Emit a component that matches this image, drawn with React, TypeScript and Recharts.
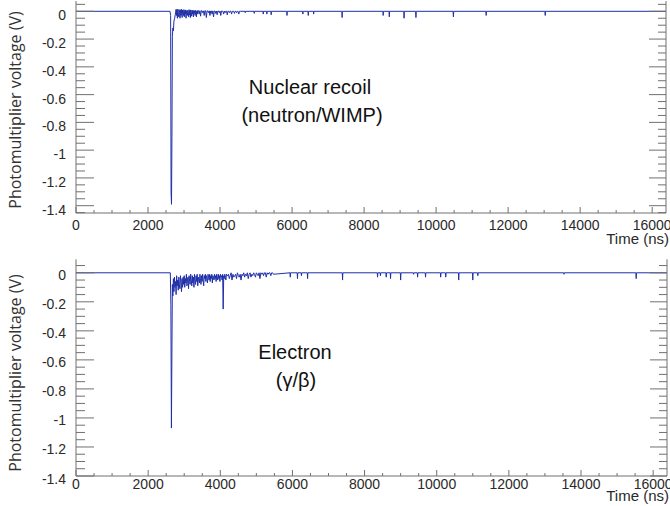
import { LineChart, Line, XAxis, YAxis } from "recharts";

// time axis (ns) and voltage axis (V)
const tEnd = 16384;
const xMajor = [0, 2000, 4000, 6000, 8000, 10000, 12000, 14000, 16000];
const xMajorLabels = ["0", "2000", "4000", "6000", "8000", "10000", "12000", "14000", "16000"];
const yMajor = [0, -0.2, -0.4, -0.6, -0.8, -1, -1.2, -1.4];
const yMajorLabels = ["0", "-0.2", "-0.4", "-0.6", "-0.8", "-1", "-1.2", "-1.4"];
const baseline = 0;

// nuclear recoil (neutron/WIMP) trace
const nrPulseT = [0, 2610, 2628, 2640, 2652, 2664, 2676, 2690, 2705, 2720, 2740, 2760];
const nrPulseV = [0, 0, -0.03, -1.31, -1.39, -0.9, -0.18, -0.12, -0.14, -0.07, -0.05, -0.02];
// fast tail, sampled every 12 ns from 2780 ns
const nrTailA = [
  0.015, -0.03, 0.01, -0.05, 0.015, -0.02, -0.04, 0.012, -0.01, -0.05,
  0.01, -0.03, 0.015, -0.02, -0.045, 0.01, -0.01, -0.03, 0.012, -0.04,
  0.005, -0.02, 0.01, -0.05, 0.005, -0.015, -0.03, 0.008, -0.01, -0.04,
  0.012, -0.025, 0.006, -0.045, 0.01, -0.01, -0.035, 0.008, -0.02, 0.005,
  -0.04, 0.006, -0.015, 0.004, -0.03, 0.006, -0.01, -0.04, 0.004, -0.02,
];
// slower tail, every 20 ns from 3380 ns
const nrTailB = [
  0.005, 0.005, -0.02, 0.004, -0.035, 0.005, 0.004, -0.01, 0.003, -0.03, 0.005, 0.003, -0.045, 0.003, 0.003,
  -0.01, 0.003, -0.03, 0.002, 0.002, -0.02, 0.003, -0.04, 0.002, 0.002, -0.015, 0.002, -0.025, 0.002, 0.002,
  -0.01, 0.002, -0.03, 0.002, 0.001, 0.001, -0.02, 0.001, -0.01, 0.001, 0.001, -0.025, 0.001, 0.001, -0.01,
  0.001, 0.001, -0.02, 0, 0, 0, -0.015, 0, 0, -0.01, 0, 0, -0.02, 0, 0,
];
const nrDipT = [4700, 4950, 5200, 5300, 5420, 5860, 6300, 6450, 6600, 7390, 8530, 8700, 9110, 9440, 10480, 11390, 13030];
const nrDipV = [-0.01, -0.015, -0.02, -0.02, -0.025, -0.03, -0.02, -0.03, -0.02, -0.045, -0.03, -0.04, -0.05, -0.045, -0.04, -0.03, -0.03];

// electron (gamma/beta) trace
const erPulseT = [0, 2615, 2630, 2645, 2660, 2672, 2685];
const erPulseV = [0, 0, -0.22, -1.07, -0.51, -0.08, -0.16];
// fast tail, every 15 ns from 2700 ns
const erTailA = [
  -0.04, -0.13, -0.03, -0.1, -0.06, -0.15, -0.02, -0.09, -0.05, -0.12, -0.03, -0.08, -0.11, -0.02, -0.07, -0.13, -0.04, -0.1, -0.03, -0.08,
  -0.02, -0.1, -0.04, -0.07, -0.01, -0.09, -0.05, -0.03, -0.11, -0.02, -0.06, -0.08, -0.01, -0.05, -0.09, -0.02, -0.07, -0.03, -0.1, -0.01,
  -0.05, -0.08, -0.02, -0.06, -0.01, -0.09, -0.03, -0.05, -0.07, -0.01, -0.04, -0.08, -0.02, -0.06, -0.01, -0.05, -0.09, -0.02, -0.04, -0.01,
  -0.06, -0.02, -0.04, -0.07, -0.01, -0.03, -0.05, -0.01, -0.06, -0.02, -0.04, -0.01, -0.07, -0.02, -0.03, -0.05, -0.01, -0.04, -0.02, -0.06,
  -0.01, -0.03, -0.05, -0.01, -0.04, -0.02, -0.06, -0.01, -0.03, -0.02, -0.05, -0.01, -0.25, -0.02, -0.04, -0.01, -0.03, -0.05, -0.01, -0.02,
];
// slower tail, every 25 ns from 4200 ns
const erTailB = [
  -0.02, -0.01, -0.04, -0.02, 0, -0.05, -0.01, -0.03, -0.02, -0.01, -0.04, 0, -0.02, -0.03, -0.01, -0.05, -0.01, -0.02, 0, -0.03,
  -0.01, -0.02, 0, -0.04, -0.01, 0, -0.03, -0.01, -0.02, 0, -0.01, -0.03, 0, -0.01, -0.02, 0, -0.04, 0, -0.01, 0,
  -0.02, 0, 0, -0.03, 0, -0.01, 0, 0, -0.02, 0, 0, -0.01,
];
const erDipT = [5940, 6140, 6250, 6420, 7390, 8360, 8440, 8600, 8720, 9000, 9360, 9470, 9690, 10110, 10250, 10610, 11000, 11140, 13530, 15530];
const erDipV = [-0.03, -0.04, -0.02, -0.04, -0.05, -0.03, -0.02, -0.03, -0.04, -0.05, -0.01, -0.03, -0.03, -0.03, -0.03, -0.05, -0.05, -0.02, -0.01, -0.04];

type Pt = { t: number; v: number };
type Seg = { start: number; step: number; values: number[] };

function buildTrace(pulseT: number[], pulseV: number[], tails: Seg[], dipT: number[], dipV: number[]): Pt[] {
  const pts: Pt[] = pulseT.map((t, i) => ({ t, v: pulseV[i] }));
  tails.forEach((s) => s.values.forEach((v, i) => pts.push({ t: s.start + i * s.step, v })));
  dipT.forEach((t, i) => {
    pts.push({ t: t - 8, v: baseline }, { t, v: dipV[i] }, { t: t + 8, v: baseline });
  });
  pts.push({ t: tEnd, v: baseline });
  return pts;
}

const nrData = buildTrace(
  nrPulseT,
  nrPulseV,
  [
    { start: 2780, step: 12, values: nrTailA },
    { start: 3380, step: 20, values: nrTailB },
  ],
  nrDipT,
  nrDipV
);
const erData = buildTrace(
  erPulseT,
  erPulseV,
  [
    { start: 2700, step: 15, values: erTailA },
    { start: 4200, step: 25, values: erTailB },
  ],
  erDipT,
  erDipV
);

const xTicks = Array.from({ length: 33 }, (_, i) => i * 500);
const yTicksFrom = (lo: number) => {
  const n = Math.round((0.05 - lo) / 0.05);
  return Array.from({ length: n + 1 }, (_, i) => Math.round((lo + i * 0.05) * 100) / 100);
};

const AXIS = "#707070";
const LABEL = "#2a2a2a";
const TRACE = "#1f2fa8";
const FONT = "'Liberation Sans', Arial, sans-serif";

const yIdx = (v: number) => yMajor.findIndex((m) => Math.abs(m - v) < 1e-6);
const xIdx = (v: number) => xMajor.indexOf(v);

const leftTick = (dy: number) => (p: any) => {
  const k = yIdx(p.payload.value);
  return (
    <g>
      <line x1={p.x} x2={p.x + (k >= 0 ? 18 : 9)} y1={p.y} y2={p.y} stroke={AXIS} />
      {k >= 0 && (
        <text x={p.x - 10} y={p.y + dy} textAnchor="end" fontSize={14} fill={LABEL} fontFamily={FONT}>
          {yMajorLabels[k]}
        </text>
      )}
    </g>
  );
};

const rightTick = (p: any) => {
  const k = yIdx(p.payload.value);
  return <line x1={p.x} x2={p.x - (k >= 0 ? 17 : 8)} y1={p.y} y2={p.y} stroke={AXIS} />;
};

const bottomTick = (dy: number) => (p: any) => {
  const k = xIdx(p.payload.value);
  return (
    <g>
      <line x1={p.x} x2={p.x} y1={p.y} y2={p.y - (k >= 0 ? 6 : 3)} stroke={AXIS} />
      {k >= 0 && (
        <text x={p.x} y={p.y + dy} textAnchor="middle" fontSize={14} fill={LABEL} fontFamily={FONT}>
          {xMajorLabels[k]}
        </text>
      )}
    </g>
  );
};

const topTick = (p: any) => {
  const k = xIdx(p.payload.value);
  return <line x1={p.x} x2={p.x} y1={p.y} y2={p.y + (k >= 0 ? 6 : 3)} stroke={AXIS} />;
};

interface PanelProps {
  data: Pt[];
  top: number;
  height: number;
  marginTop: number;
  bottomH: number;
  rightW: number;
  yDomain: [number, number];
  yLabelDy: number;
  xLabelDy: number;
}

function Panel({ data, top, height, marginTop, bottomH, rightW, yDomain, yLabelDy, xLabelDy }: PanelProps) {
  const yTicks = yTicksFrom(Math.ceil(yDomain[0] / 0.05 - 1e-6) * 0.05);
  return (
    <div style={{ position: "absolute", left: 0, top }}>
      <LineChart width={670} height={height} data={data} margin={{ top: marginTop, right: 0, bottom: 0, left: 0 }}>
        <XAxis
          xAxisId="b"
          dataKey="t"
          type="number"
          domain={[0, tEnd]}
          allowDataOverflow
          ticks={xTicks}
          interval={0}
          height={bottomH}
          tickSize={0}
          tickMargin={0}
          tickLine={false}
          axisLine={{ stroke: AXIS }}
          tick={bottomTick(xLabelDy)}
        />
        <XAxis
          xAxisId="t"
          orientation="top"
          dataKey="t"
          type="number"
          domain={[0, tEnd]}
          allowDataOverflow
          ticks={xTicks}
          interval={0}
          height={0}
          tickSize={0}
          tickMargin={0}
          tickLine={false}
          axisLine={{ stroke: AXIS }}
          tick={topTick}
        />
        <YAxis
          yAxisId="l"
          type="number"
          domain={yDomain}
          allowDataOverflow
          ticks={yTicks}
          interval={0}
          width={76}
          tickSize={0}
          tickMargin={0}
          tickLine={false}
          axisLine={{ stroke: AXIS }}
          tick={leftTick(yLabelDy)}
        />
        <YAxis
          yAxisId="r"
          orientation="right"
          type="number"
          domain={yDomain}
          allowDataOverflow
          ticks={yTicks}
          interval={0}
          width={rightW}
          tickSize={0}
          tickMargin={0}
          tickLine={false}
          axisLine={{ stroke: AXIS }}
          tick={rightTick}
        />
        <Line
          xAxisId="b"
          yAxisId="l"
          type="linear"
          dataKey="v"
          stroke={TRACE}
          strokeWidth={1}
          dot={false}
          isAnimationActive={false}
        />
      </LineChart>
    </div>
  );
}

const textAt = (x: number, y: number, size: number, extra: any = {}) => ({
  position: "absolute" as const,
  left: x,
  top: y,
  transform: "translate(-50%, -50%)",
  fontSize: size,
  fontFamily: FONT,
  color: "#111",
  whiteSpace: "nowrap" as const,
  lineHeight: 1,
  ...extra,
});

const yTitle = "Photomultiplier voltage (V)";
const yTitleStyle = { transform: "translate(-50%, -50%) rotate(-90deg)", fontFamily: "'Open Sans', sans-serif", color: "#333" };

export default function App() {
  return (
    <div style={{ position: "absolute", left: 0, top: 0, width: 670, height: 506, background: "#fff", overflow: "hidden" }}>
      <Panel
        data={nrData}
        top={0}
        height={250}
        marginTop={1}
        bottomH={37}
        rightW={4}
        yDomain={[-1.4526, 0.0742]}
        yLabelDy={9}
        xLabelDy={17}
      />
      <Panel
        data={erData}
        top={250}
        height={256}
        marginTop={9.3}
        bottomH={30}
        rightW={3}
        yDomain={[-1.4, 0.093]}
        yLabelDy={7.5}
        xLabelDy={12.5}
      />

      <div style={textAt(15, 110, 16, yTitleStyle)}>{yTitle}</div>
      <div style={textAt(15, 373, 16, yTitleStyle)}>{yTitle}</div>

      <div style={textAt(669, 238, 15, { transform: "translate(-100%, -50%)", color: LABEL })}>Time (ns)</div>
      <div style={textAt(669, 495, 15, { transform: "translate(-100%, -50%)", color: LABEL })}>Time (ns)</div>

      <div style={textAt(310, 87, 20)}>Nuclear recoil</div>
      <div style={textAt(312, 115, 20)}>(neutron/WIMP)</div>
      <div style={textAt(295, 352, 20)}>Electron</div>
      <div style={textAt(296, 380, 20)}>(γ/β)</div>
    </div>
  );
}
